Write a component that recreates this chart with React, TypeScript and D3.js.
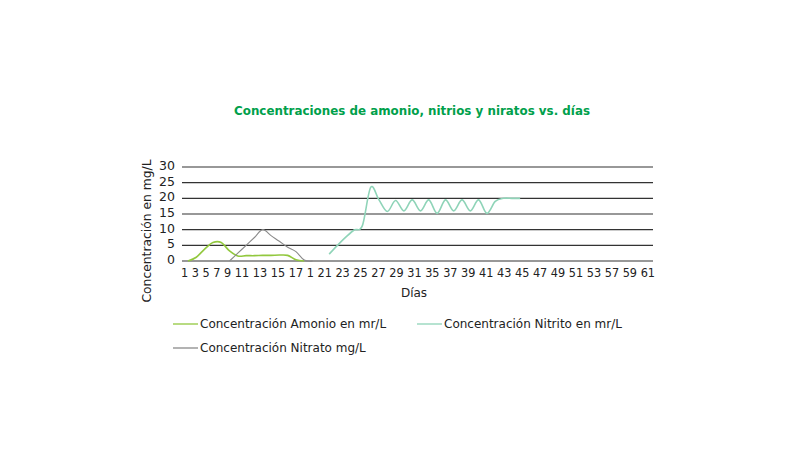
import * as d3 from "d3";

// days on the category axis (every other one gets a label)
const days = [
  "1", "2", "3", "4", "5", "6", "7", "8", "9", "10", "11", "12", "13", "14", "15", "16", "17", "18", "1", "20",
  "21", "22", "23", "24", "25", "26", "27", "28", "29", "30", "31", "33", "35", "36", "37", "38", "39", "40", "41", "42",
  "43", "44", "45", "46", "47", "48", "49", "50", "51", "52", "53", "55", "57", "58", "59", "60", "61",
];
const yTicks = [0, 5, 10, 15, 20, 25, 30];

const amonio = [0, 1.2, 3.8, 5.9, 5.9, 3.2, 1.6, 1.7, 1.7, 1.8, 1.8, 1.9, 1.8, 0.4, 0];
const nitrato = [null, null, null, null, null, 0, 2.5, 5, 7.5, 10, 8.1, 6.3, 4.4, 3.0, 0.3, 0];
const nitrito = [
  null, null, null, null, null, null, null, null, null, null, null, null, null, null, null, null, null,
  2.2, 5, 7.6, 9.9, 11.3, 23.5, 19.5, 15.8, 19.3, 16, 19.5, 16, 19.5, 15.2, 19.5, 16, 19.5, 16, 19.5, 15.2, 19, 20, 20, 20,
];

const series = [
  { name: "Concentración Amonio en mr/L", values: amonio, color: "#92c83e", width: 1.6 },
  { name: "Concentración Nitrito en mr/L", values: nitrito, color: "#8fd4b8", width: 1.6 },
  { name: "Concentración Nitrato mg/L", values: nitrato, color: "#8a8a8a", width: 1.1 },
];

const W = 800;
const H = 460;
const plot = { left: 182, right: 653, top: 167, bottom: 261 };
const font = "'DejaVu Sans', Verdana, sans-serif";

export default function App() {
  // index domain: the day labels repeat ("1" shows up twice)
  const x = d3.scalePoint<number>().domain(d3.range(days.length)).range([plot.left + 6, plot.right]);
  const y = d3.scaleLinear().domain([0, 30]).range([plot.bottom, plot.top]);

  const line = d3
    .line<number | null>()
    .defined((d) => d !== null && d !== undefined)
    .x((_, i) => x(i) as number)
    .y((d) => y(d as number))
    .curve(d3.curveCatmullRom.alpha(0));

  const xLabels = days.filter((_, i) => i % 2 === 0);

  const legend = [
    { s: series[0], lx: 173, ly: 328 },
    { s: series[1], lx: 417, ly: 328 },
    { s: series[2], lx: 173, ly: 352 },
  ];

  return (
    <svg
      width={W}
      height={H}
      style={{ position: "absolute", left: 0, top: 0, background: "#fff" }}
      fontFamily={font}
    >
      <text
        x={412}
        y={115}
        textAnchor="middle"
        fontSize={12.5}
        fontWeight="bold"
        fill="#00a04b"
        textLength={356}
        lengthAdjust="spacingAndGlyphs"
      >
        Concentraciones de amonio, nitrios y niratos vs. días
      </text>

      {/* gridlines + y labels */}
      {yTicks.map((t) => (
        <g key={t}>
          <line x1={plot.left} x2={plot.right} y1={y(t)} y2={y(t)} stroke="#333" strokeWidth={1.2} />
          <text x={175} y={y(t) - 1.5} dy="0.35em" textAnchor="end" fontSize={12.5} fill="#222">
            {t}
          </text>
        </g>
      ))}

      {/* x labels, laid out as a run of text like the original */}
      <text x={181} y={277} fontSize={12.5} fill="#222" textLength={474} lengthAdjust="spacingAndGlyphs">
        {xLabels.join(" ")}
      </text>

      <text x={414} y={297} textAnchor="middle" fontSize={12} fill="#222">
        Días
      </text>
      <text
        transform={`translate(151,231) rotate(-90)`}
        textAnchor="middle"
        fontSize={12}
        fill="#222"
        textLength={143}
        lengthAdjust="spacingAndGlyphs"
      >
        Concentración en mg/L
      </text>

      {series.map((s) => (
        <path key={s.name} d={line(s.values) ?? ""} fill="none" stroke={s.color} strokeWidth={s.width} />
      ))}

      {legend.map(({ s, lx, ly }) => (
        <g key={s.name}>
          <line x1={lx} x2={lx + 25} y1={ly - 4} y2={ly - 4} stroke={s.color} strokeWidth={1.3} />
          <text x={lx + 27} y={ly} fontSize={12} fill="#222">
            {s.name}
          </text>
        </g>
      ))}
    </svg>
  );
}
